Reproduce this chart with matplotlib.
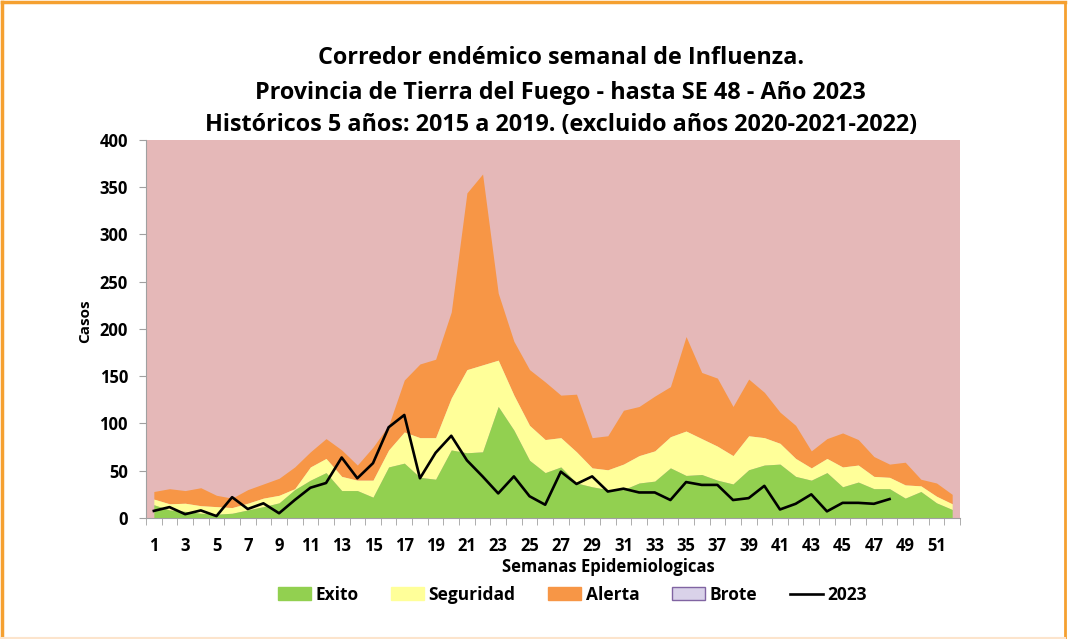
import matplotlib
matplotlib.use("Agg")
import matplotlib.pyplot as plt
import numpy as np
from matplotlib.lines import Line2D
from matplotlib.patches import Patch

plt.rcParams["font.family"] = ["Open Sans", "DejaVu Sans"]

weeks = list(range(1, 53))

# upper limit of each zone (cumulative values)
exito = [14, 8.5, 7, 5, 4, 5, 8.5, 12, 16, 30, 40, 48, 29, 29, 22, 54, 58, 43, 41, 72,
         69, 70, 118, 93, 61, 48, 54, 37, 33, 30, 30, 37, 39, 53, 45, 46, 40, 36, 51, 56,
         57, 44, 40, 48, 33, 38, 31, 31, 21, 28, 16, 9]
seguridad = [20, 15, 15.6, 13, 12, 11, 15.6, 21, 24, 31, 54, 63, 44, 40, 40, 72, 91, 85, 85, 127,
             157, 162, 167, 130, 98, 83, 85, 70, 53, 51, 57, 66, 71, 86, 92, 84, 76, 66, 87, 85,
             79, 63, 53, 63, 54, 56, 44, 43, 35, 34, 23, 15]
alerta = [28, 31, 29, 32, 24, 21, 30, 36, 42, 54, 70, 84, 72, 56, 75, 98, 146, 163, 168, 218,
          344, 364, 238, 187, 157, 144, 130, 131, 85, 87, 114, 118, 129, 139, 192, 154, 148, 118, 147, 133,
          112, 98, 71, 84, 90, 83, 65, 57, 59, 41, 37, 25]
brote = 400

weeks_2023 = list(range(1, 49))
casos_2023 = [7.5, 11.5, 4, 8, 2, 22, 9.5, 15.5, 5, 19, 32, 37, 64, 42, 58, 96, 109, 42, 69, 87,
              61, 44, 26, 44, 23, 14, 49, 36, 44, 28, 31, 27, 27, 19, 38, 35, 35, 19, 21, 34,
              9, 15, 25, 7, 16, 16, 15, 20]

c_exito = "#92D050"
c_seg = "#FFFF99"
c_alerta = "#F79646"
c_brote = "#E5B8B8"

fig = plt.figure(figsize=(10.76, 6.39), dpi=100)
ax = fig.add_axes([0.1357, 0.1894, 0.7565, 0.5915])
ax.set_facecolor(c_brote)

ax.fill_between(weeks, alerta, brote, color=c_brote, lw=0)
ax.fill_between(weeks, seguridad, alerta, color=c_alerta, lw=0)
ax.fill_between(weeks, exito, seguridad, color=c_seg, lw=0)
ax.fill_between(weeks, 0, exito, color=c_exito, lw=0)
ax.plot(weeks_2023, casos_2023, color="black", lw=1.9)

ax.set_xlim(0.5, 52.5)
ax.set_ylim(0, 400)
ax.set_yticks(range(0, 401, 50))
ax.set_xticks(range(1, 53, 2))
ax.set_xticks(np.arange(0.5, 53, 1), minor=True)
ax.tick_params(axis="x", which="major", length=0, pad=14)
ax.tick_params(axis="x", which="minor", length=5, color="#A0A0A0", direction="out")
ax.tick_params(axis="y", length=5, color="#A0A0A0", pad=8)
for lab in ax.get_xticklabels() + ax.get_yticklabels():
    lab.set_fontweight("bold")
    lab.set_fontsize(12)

for s in ["top", "right"]:
    ax.spines[s].set_visible(False)
ax.spines["left"].set_color("#A0A0A0")
ax.spines["bottom"].set_color("#A0A0A0")

ax.set_ylabel("Casos", fontsize=11, fontweight="bold")
ax.yaxis.set_label_coords(-0.066, 0.52)
ax.set_xlabel("Semanas Epidemiologicas", fontsize=12, fontweight="bold", labelpad=6)
ax.xaxis.set_label_coords(0.568, -0.105)

title_lines = [
    "Corredor endémico semanal de Influenza.",
    "Provincia de Tierra del Fuego - hasta SE 48 - Año 2023",
    "Históricos 5 años: 2015 a 2019. (excluido años 2020-2021-2022)",
]
for txt, y in zip(title_lines, [0.909, 0.854, 0.804]):
    fig.text(0.521, y, txt, ha="center", va="center", fontsize=16.8, fontweight="bold")

handles = [
    Patch(facecolor=c_exito, edgecolor=c_exito, label="Exito"),
    Patch(facecolor=c_seg, edgecolor=c_seg, label="Seguridad"),
    Patch(facecolor=c_alerta, edgecolor=c_alerta, label="Alerta"),
    Patch(facecolor="#D9D2E9", edgecolor="#8064A2", label="Brote"),
    Line2D([0], [0], color="black", lw=1.9, label="2023"),
]
leg = fig.legend(handles=handles, loc="center", bbox_to_anchor=(0.532, 0.069), ncol=5,
                 frameon=False, prop={"weight": "bold", "size": 12.5}, handlelength=1.9,
                 handleheight=0.75, handletextpad=0.25, columnspacing=1.9)

# orange frame around the chart
fig.add_artist(Line2D([0.002, 0.99], [0.997, 0.997], color="#F5A030", lw=2.5, transform=fig.transFigure))
fig.add_artist(Line2D([0.002, 0.002], [0.0, 0.997], color="#F5A030", lw=2.5, transform=fig.transFigure))
fig.add_artist(Line2D([0.99, 0.99], [0.0, 0.997], color="#F5A030", lw=2.0, transform=fig.transFigure))
fig.add_artist(Line2D([0.002, 0.99], [0.002, 0.002], color="#FCE4CC", lw=1.5, transform=fig.transFigure))

fig.savefig("out.png", dpi=100)
